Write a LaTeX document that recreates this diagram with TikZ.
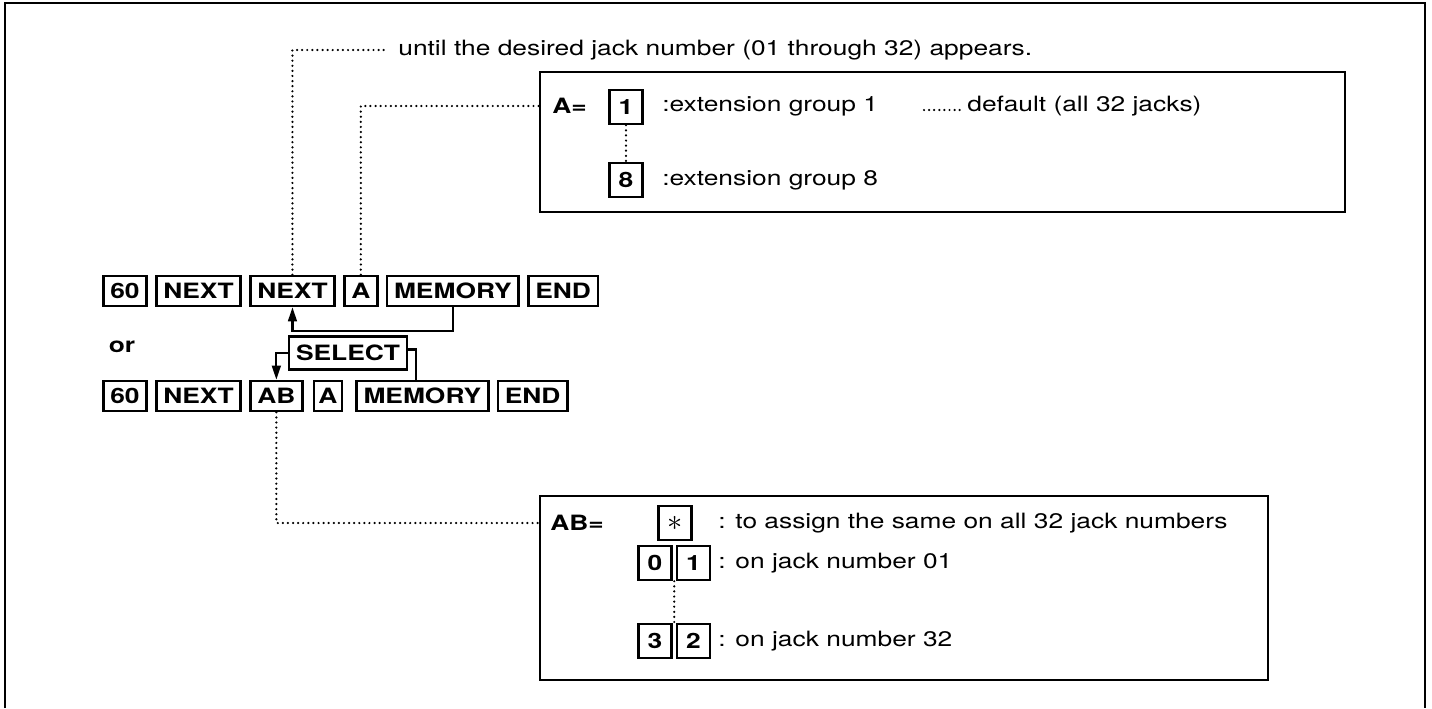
\documentclass[tikz,border=0pt,12pt]{standalone}
\usepackage{fontspec}
\setmainfont{TeX Gyre Heros}[FakeStretch=1.25]
\usetikzlibrary{positioning,arrows.meta,calc}

\begin{document}
\begin{tikzpicture}[
    x=0.02cm, y=-0.02cm,
    keybox/.style={draw, line width=1.5pt, font=\bfseries, inner xsep=4pt, inner ysep=0pt, minimum height=0.6cm}, % keys of a sequence
    numkey/.style={draw, line width=1.4pt, font=\bfseries, inner sep=0pt, minimum width=0.66cm, minimum height=0.68cm}, % digit keys
    panel/.style={line width=1.2pt},
    border/.style={line width=1.6pt},
    dotline/.style={line width=1.4pt, line cap=round, dash pattern=on 0pt off 2.9pt},
    flow/.style={line width=1.2pt, -{Triangle[width=5pt,length=8pt]}},
    hook/.style={line width=1.2pt},
    txt/.style={inner sep=0pt, anchor=west},
    node distance=0.14cm
]

    % Page frame (open at the bottom)
    \useasboundingbox (0,0) rectangle (1432,708);
    \draw[border] (5,708) -- (5,3) -- (1425,3) -- (1425,708);

    % First key sequence
    \node[keybox, anchor=west] (k60a) at (102,291) {60};
    \node[keybox, right=of k60a] (nexta) {NEXT};
    \node[keybox, right=of nexta] (nextb) {NEXT};
    \node[keybox, right=of nextb] (keya) {A};
    \node[keybox, right=of keya] (mema) {MEMORY};
    \node[keybox, right=of mema] (enda) {END};

    % Loop back from MEMORY to NEXT
    \draw[flow] (mema.south) -- ++(0,24) -| (nextb.south);

    \node[font=\bfseries] (orword) at (122,347) {or};

    % Second key sequence
    \node[keybox, anchor=west] (k60b) at (102,396) {60};
    \node[keybox, right=of k60b] (nextc) {NEXT};
    \node[keybox, right=of nextc] (keyab) {AB};
    \node[keybox, inner xsep=2.5pt, right=0.18cm of keyab] (keyb) {A};
    \node[keybox, right=0.24cm of keyb] (memb) {MEMORY};
    \node[keybox, right=of memb] (endb) {END};

    % SELECT loop
    \node[keybox, minimum height=0.66cm] (sel) at (348,353) {SELECT};
    \draw[flow] (sel.west) -| (keyab.north);
    \draw[hook] ([yshift=2pt]sel.east) -- ++(8,0) coordinate (selhook) -- (selhook |- memb.north);

    % Note on top
    \node[txt] (until) at (398,50) {until the desired jack number (01 through 32) appears.};
    \draw[dotline] (nextb.north) |- ([xshift=-6pt]until.west);

    % Extension group box
    \coordinate (grpnw) at (540,72);
    \coordinate (grpse) at (1345,212);
    \draw[panel] (grpnw) rectangle (grpse);
    \node[txt, font=\bfseries] (eqa) at (552,106) {A=};
    \node[numkey] (grp1) at (626,107) {1};
    \node[numkey] (grp8) at (626,180) {8};
    \draw[dotline] (grp1.south) -- (grp8.north);
    \node[txt] (ext1) at (662,106) {:extension group 1};
    \node[txt] (dflt) at (967,106) {default (all 32 jacks)};
    \coordinate (dfltdots) at (924,110);
    \draw[dotline] (dfltdots) -- ([xshift=-4pt]dfltdots -| dflt.west);
    \node[txt] (ext8) at (662,180) {:extension group 8};
    \draw[dotline] (keya.north) |- (grpnw |- eqa.west);

    % Jack number box
    \coordinate (jacknw) at (540,496);
    \coordinate (jackse) at (1268,680);
    \draw[panel] (jacknw) rectangle (jackse);
    \node[txt, font=\bfseries] (eqab) at (550,523) {AB=};
    \node[numkey, font=\Large] (jall) at (675,523) {$\ast$};
    \node[numkey] (j0) at (655,563) {0};
    \node[numkey, right=0.06cm of j0] (j1) {1};
    \node[numkey] (j3) at (655,641) {3};
    \node[numkey, right=0.06cm of j3] (j2) {2};
    \draw[dotline] ($(j0.south east)!0.5!(j1.south west)$) -- ($(j3.north east)!0.5!(j2.north west)$);
    \node[txt] (assign) at (718,523) {: to assign the same on all 32 jack numbers};
    \node[txt] (jack01) at (718,563) {: on jack number 01};
    \node[txt] (jack32) at (718,641) {: on jack number 32};
    \draw[dotline] (keyab.south) |- (jacknw |- eqab.west);

\end{tikzpicture}
\end{document}
